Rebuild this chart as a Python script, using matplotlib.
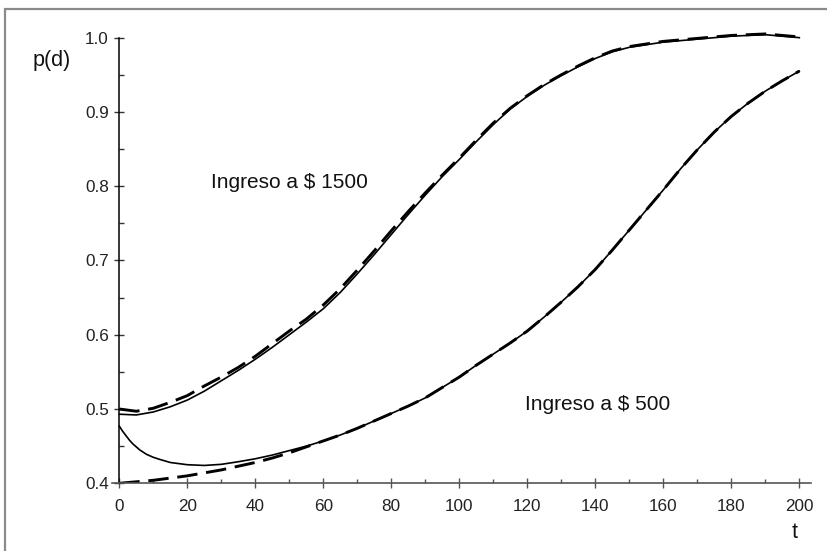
import matplotlib
matplotlib.use("Agg")
import matplotlib.pyplot as plt
from matplotlib.patches import Rectangle
from matplotlib.ticker import FormatStrFormatter

plt.rcParams['font.family'] = ['Liberation Sans', 'DejaVu Sans']

# ---- data ----
t_up = [0, 5, 10, 15, 20, 25, 30, 35, 40, 45, 50, 55, 60, 65, 70, 75, 80, 85, 90,
        95, 100, 105, 110, 115, 120, 125, 130, 135, 140, 145, 150, 160, 170, 180, 190, 200]
up_solid = [0.493, 0.492, 0.496, 0.503, 0.512, 0.524, 0.538, 0.552, 0.567, 0.583, 0.600,
            0.617, 0.635, 0.657, 0.682, 0.708, 0.735, 0.762, 0.788, 0.813, 0.836, 0.860,
            0.883, 0.904, 0.921, 0.936, 0.949, 0.961, 0.972, 0.981, 0.987, 0.994, 0.998,
            1.002, 1.004, 1.000]
up_dash = [0.500, 0.497, 0.501, 0.509, 0.518, 0.531, 0.543, 0.556, 0.571, 0.588, 0.605,
           0.621, 0.640, 0.662, 0.687, 0.713, 0.740, 0.766, 0.791, 0.815, 0.838, 0.862,
           0.885, 0.905, 0.922, 0.937, 0.950, 0.962, 0.973, 0.982, 0.988, 0.995, 0.999,
           1.003, 1.005, 1.001]

t_lo_solid = [0, 1, 2, 3, 4, 5, 6, 7, 8, 10, 12, 15, 20, 25, 30, 35, 40, 45, 50, 55, 60,
              65, 70, 75, 80, 85, 90, 95, 100, 105, 110, 115, 120, 125, 130, 135, 140,
              145, 150, 155, 160, 165, 170, 175, 180, 185, 190, 195, 200]
lo_solid = [0.477, 0.470, 0.464, 0.458, 0.453, 0.449, 0.445, 0.442, 0.439, 0.435, 0.432,
            0.428, 0.425, 0.424, 0.4255, 0.429, 0.433, 0.438, 0.444, 0.450, 0.457, 0.465,
            0.474, 0.484, 0.494, 0.504, 0.515, 0.529, 0.543, 0.559, 0.574, 0.589, 0.605,
            0.624, 0.644, 0.665, 0.688, 0.714, 0.741, 0.768, 0.795, 0.823, 0.849, 0.873,
            0.894, 0.912, 0.928, 0.942, 0.955]
t_lo_dash = [0, 5, 10, 15, 20, 25, 30, 35, 40, 45, 50, 55, 60, 65, 70, 75, 80, 85, 90, 95,
             100, 105, 110, 115, 120, 125, 130, 135, 140, 145, 150, 155, 160, 165, 170,
             175, 180, 185, 190, 195, 200]
lo_dash = [0.400, 0.402, 0.404, 0.407, 0.410, 0.414, 0.418, 0.423, 0.428, 0.434, 0.441,
           0.449, 0.457, 0.465, 0.474, 0.484, 0.494, 0.504, 0.515, 0.529, 0.543, 0.559,
           0.574, 0.589, 0.605, 0.624, 0.644, 0.665, 0.688, 0.714, 0.741, 0.768, 0.795,
           0.823, 0.849, 0.873, 0.894, 0.912, 0.928, 0.942, 0.955]

x_major = [0, 20, 40, 60, 80, 100, 120, 140, 160, 180, 200]
x_minor = [10, 30, 50, 70, 90, 110, 130, 150, 170, 190]
y_major = [0.4, 0.5, 0.6, 0.7, 0.8, 0.9, 1.0]
y_minor = [0.45, 0.55, 0.65, 0.75, 0.85, 0.95]

label_high = "Ingreso a $ 1500"
label_low = "Ingreso a $ 500"

# ---- figure ----
fig = plt.figure(figsize=(8.27, 5.51), dpi=100)
top_frac = 1 - 9 / 551
fig.patches.append(Rectangle((5 / 827, -0.1), 1.5, top_frac + 0.1,
                             transform=fig.transFigure, fill=False,
                             edgecolor='#8a8a8a', linewidth=1.6))

ax = fig.add_axes([0.136, 0.1229, 0.8449, 0.8357])
ax.set_xlim(-2, 203.5)
ax.set_ylim(0.4, 1.02)

ax.plot(t_up, up_solid, color='black', lw=1.2)
ax.plot(t_lo_solid, lo_solid, color='black', lw=1.2)
ax.plot(t_up, up_dash, color='black', lw=2.1, linestyle=(0, (7, 3)))
ax.plot(t_lo_dash, lo_dash, color='black', lw=2.1, linestyle=(0, (7, 3)))

for s in ['top', 'right']:
    ax.spines[s].set_visible(False)
ax.spines['left'].set_position(('data', 0))
ax.spines['left'].set_bounds(0.4, 1.0)
ax.spines['left'].set_color('black')
ax.spines['left'].set_linewidth(1.1)
ax.spines['bottom'].set_color('#555555')
ax.spines['bottom'].set_linewidth(1.2)

ax.set_xticks(x_major)
ax.set_xticks(x_minor, minor=True)
ax.set_yticks(y_major)
ax.set_yticks(y_minor, minor=True)
ax.yaxis.set_major_formatter(FormatStrFormatter('%.1f'))

ax.tick_params(axis='x', which='major', direction='inout', length=7, width=1.0,
               color='#555555', labelsize=12.3, labelcolor='#222222', pad=8)
ax.tick_params(axis='x', which='minor', direction='in', length=3, width=1.0,
               color='#555555')
ax.tick_params(axis='y', which='major', direction='inout', length=7, width=1.0,
               color='#333333', labelsize=12.3, labelcolor='#222222', pad=4)
ax.tick_params(axis='y', which='minor', direction='in', length=3.5, width=1.0,
               color='#333333')

ax.text(27, 0.7975, label_high, fontsize=15, va='baseline', ha='left', color='#111111')
ax.text(119.3, 0.499, label_low, fontsize=15, va='baseline', ha='left', color='#111111')

fig.text(33 / 827, 0.880, "p(d)", fontsize=15.5, va='baseline', ha='left', color='#111111')
fig.text(792 / 827, 0.0236, "t", fontsize=15.5, va='baseline', ha='left', color='#111111')

fig.savefig("out.png", dpi=100)
